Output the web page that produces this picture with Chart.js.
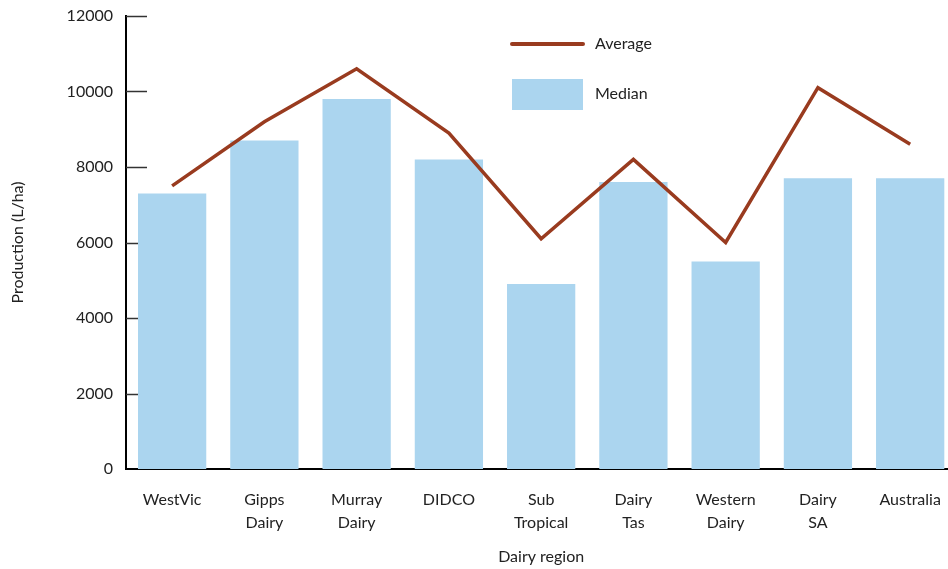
<!DOCTYPE html>
<html>
<head>
<meta charset="utf-8">
<script src="https://cdn.jsdelivr.net/npm/chart.js@4"></script>
<style>
  html, body { margin: 0; padding: 0; background: #fff; overflow: hidden; }
  #wrap { width: 948px; height: 569px; overflow: hidden; }
</style>
</head>
<body>
<div id="wrap"><canvas id="myChart" width="960" height="569"></canvas></div>
<script>
// datos
const regions = [['WestVic'], ['Gipps', 'Dairy'], ['Murray', 'Dairy'], ['DIDCO'], ['Sub', 'Tropical'],
  ['Dairy', 'Tas'], ['Western', 'Dairy'], ['Dairy', 'SA'], ['Australia']];
const average = [7500, 9200, 10600, 8900, 6100, 8200, 6000, 10100, 8600];
const median = [7300, 8700, 9800, 8200, 4900, 7600, 5500, 7700, 7700];
const yTicks = [0, 2000, 4000, 6000, 8000, 10000, 12000];

const lineColor = '#993b1f';
const barColor = '#abd5ef';
const fontFamily = 'Lato, "Open Sans", sans-serif';

// marcas del eje Y hacia dentro, debajo de las barras
const innerTicks = {
  id: 'innerTicks',
  beforeDatasetsDraw(chart) {
    const ctx = chart.ctx;
    const y = chart.scales.y;
    ctx.save();
    ctx.strokeStyle = '#333';
    ctx.lineWidth = 1.5;
    yTicks.forEach(function(v) {
      if (v === 0) return;
      const py = Math.round(y.getPixelForValue(v)) + 0.5;
      ctx.beginPath();
      ctx.moveTo(y.right, py);
      ctx.lineTo(y.right + 21, py);
      ctx.stroke();
    });
    ctx.restore();
  }
};

// leyenda propia, apilada en vertical
const stackedLegend = {
  id: 'stackedLegend',
  afterDraw(chart) {
    const ctx = chart.ctx;
    const x0 = chart.chartArea.left + 386;
    ctx.save();
    ctx.font = '16px ' + fontFamily;
    ctx.textBaseline = 'middle';
    chart.data.datasets.forEach(function(ds, i) {
      const cy = 44 + i * 50;
      if (ds.type === 'line') {
        ctx.strokeStyle = ds.borderColor;
        ctx.lineWidth = 4;
        ctx.lineCap = 'round';
        ctx.beginPath();
        ctx.moveTo(x0, cy);
        ctx.lineTo(x0 + 71, cy);
        ctx.stroke();
      } else {
        ctx.fillStyle = ds.backgroundColor;
        ctx.fillRect(x0, cy - 15, 71, 31);
      }
      ctx.fillStyle = '#222';
      ctx.fillText(ds.label, x0 + 83, cy);
    });
    ctx.restore();
  }
};

const ctx = document.getElementById('myChart').getContext('2d');
window.myChart = new Chart(ctx, {
  data: {
    labels: regions,
    datasets: [{
      type: 'line',
      label: 'Average',
      data: average,
      borderColor: lineColor,
      backgroundColor: lineColor,
      borderWidth: 3.5,
      pointRadius: 0,
      tension: 0,
      order: 1
    }, {
      type: 'bar',
      label: 'Median',
      data: median,
      backgroundColor: barColor,
      borderWidth: 0,
      barPercentage: 0.74,
      categoryPercentage: 1,
      order: 2
    }]
  },
  options: {
    responsive: false,
    animation: false,
    devicePixelRatio: 1,
    layout: { padding: { top: 16, right: 2, bottom: 0, left: 0 } },
    plugins: {
      legend: { display: false },
      tooltip: { enabled: false }
    },
    scales: {
      x: {
        afterFit: function(scale) { scale.height = 100; },
        grid: { display: false, drawTicks: false },
        border: { color: '#000', width: 2 },
        ticks: {
          color: '#222',
          padding: 19,
          maxRotation: 0,
          autoSkip: false,
          font: { family: fontFamily, size: 16, lineHeight: 1.45 }
        },
        title: {
          display: true,
          text: 'Dairy region',
          color: '#222',
          padding: { top: 11, bottom: 3 },
          font: { family: fontFamily, size: 16 }
        }
      },
      y: {
        min: 0,
        max: 12000,
        afterFit: function(scale) {
          scale.width = 126;
          scale.paddingTop = 0;
          scale.paddingBottom = 0;
        },
        afterBuildTicks: function(scale) {
          scale.ticks = yTicks.map(function(v) { return { value: v }; });
        },
        grid: { display: false, drawTicks: false },
        border: { color: '#000', width: 2 },
        ticks: {
          color: '#222',
          padding: 13,
          font: { family: fontFamily, size: 16 },
          callback: function(v) { return String(v); }
        },
        title: {
          display: true,
          text: 'Production (L/ha)',
          color: '#222',
          padding: { top: 8, bottom: 0 },
          font: { family: fontFamily, size: 16 }
        }
      }
    }
  },
  plugins: [innerTicks, stackedLegend]
});
</script>
</body>
</html>
